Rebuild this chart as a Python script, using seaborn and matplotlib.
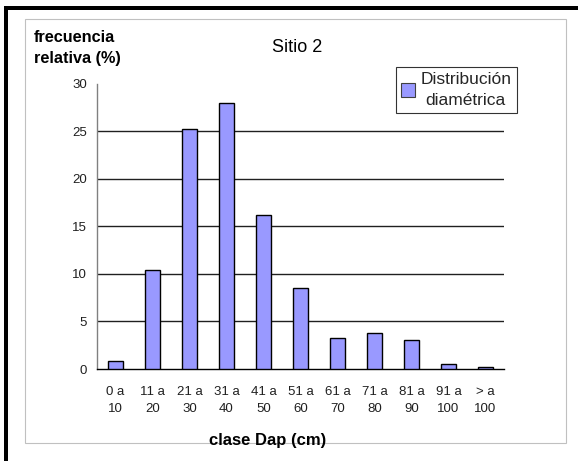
import matplotlib
matplotlib.use("Agg")
import matplotlib.pyplot as plt
import matplotlib.patheffects as pe
from matplotlib import font_manager
from matplotlib.patches import Rectangle
import numpy as np
import pandas as pd
import seaborn as sns

# Relative frequency (%) per diameter class
clases = ["0 a\n10", "11 a\n20", "21 a\n30", "31 a\n40", "41 a\n50", "51 a\n60",
          "61 a\n70", "71 a\n80", "81 a\n90", "91 a\n100", "> a\n100"]
frecuencia = [0.8, 10.4, 25.2, 28.0, 16.2, 8.5, 3.3, 3.8, 3.0, 0.5, 0.25]
y_ticks = [0, 5, 10, 15, 20, 25, 30]
serie = "Distribución\ndiamétrica"

sns.set_theme(style="white")


def pick_font(names):
    for n in names:
        try:
            font_manager.findfont(n, fallback_to_default=False)
            return n
        except Exception:
            continue
    return "DejaVu Sans"


main_font = pick_font(["Liberation Sans", "Arial", "DejaVu Sans"])
narrow_font = pick_font(["Liberation Sans Narrow", main_font])
plt.rcParams["font.family"] = [main_font, "DejaVu Sans"]

df = pd.DataFrame({"clase": clases, "frecuencia": frecuencia})

fig = plt.figure(figsize=(5.78, 4.61), dpi=100)
fig.patch.set_facecolor("white")

# outer frame: thick black edge on top and left, thin gray chart border
fig.add_artist(Rectangle((4 / 578, 0), 4 / 578, 1 - 6 / 461, transform=fig.transFigure,
                         facecolor="black", edgecolor="none"))
fig.add_artist(Rectangle((4 / 578, 1 - 10 / 461), 1, 4 / 461, transform=fig.transFigure,
                         facecolor="black", edgecolor="none"))
fig.add_artist(Rectangle((25 / 578, 1 - 443 / 461), (566 - 25) / 578, (443 - 19) / 461,
                         transform=fig.transFigure, facecolor="none",
                         edgecolor="#c0c0c0", lw=0.8))

ax = fig.add_axes([97 / 578, 1 - 369 / 461, (504 - 97) / 578, (369 - 83.8) / 461])
ax.set_facecolor("none")

sns.barplot(data=df, x="clase", y="frecuencia", color="#9999ff", width=0.38,
            edgecolor="black", linewidth=1.0, saturation=1, ax=ax, label=serie,
            zorder=3)

for p in ax.patches:
    p.set_path_effects([pe.SimplePatchShadow(offset=(1.4, -1.0), shadow_rgbFace="#808080",
                                             alpha=0.8), pe.Normal()])

ax.set_xlim(-0.5, len(clases) - 0.5)
ax.set_ylim(0, 30)
ax.set_yticks(y_ticks)
ax.set_yticklabels([str(v) for v in y_ticks], fontfamily=narrow_font, fontsize=9.5,
                   color="#202020")

for v in y_ticks[1:-1]:
    ax.axhline(v, color="#202020", lw=1.0, zorder=1)

ax.set_xticks(range(len(clases)))
ax.set_xticklabels(clases, fontfamily=narrow_font, fontsize=9.5, color="#202020",
                   linespacing=1.6)
ax.set_xticks(np.arange(-0.5, len(clases), 1.0), minor=True)
ax.tick_params(axis="x", which="major", length=0, pad=12)
ax.tick_params(axis="x", which="minor", length=4, width=1, color="black", direction="out")
ax.tick_params(axis="y", which="major", length=4, width=1, color="#808080",
               direction="out", pad=3)

for side in ("top", "right"):
    ax.spines[side].set_visible(False)
ax.spines["left"].set_color("#808080")
ax.spines["left"].set_linewidth(1.0)
ax.spines["bottom"].set_color("black")
ax.spines["bottom"].set_linewidth(1.0)

ax.set_xlabel("")
ax.set_ylabel("")

fig.text(268 / 578, 1 - 440 / 461, "clase Dap (cm)", ha="center", va="center",
         fontsize=12, fontweight="bold", color="black")
fig.text(34 / 578, 1 - 30 / 461, "frecuencia\nrelativa (%)", ha="left", va="top",
         fontsize=11.7, fontweight="bold", color="black", linespacing=1.5)
fig.text(297 / 578, 1 - 48 / 461, "Sitio 2", ha="center", va="center",
         fontsize=13, color="black")

leg = ax.legend(loc="upper left", bbox_to_anchor=(396 / 578, 1 - 67 / 461),
                bbox_transform=fig.transFigure, frameon=True, fancybox=False,
                fontsize=12.5, handlelength=0.8, handleheight=0.8, handletextpad=0.3,
                borderpad=0.3, borderaxespad=0)
leg.get_frame().set_edgecolor("black")
leg.get_frame().set_linewidth(0.8)
for t in leg.get_texts():
    t.set_multialignment("center")
    t.set_linespacing(1.45)
for h in leg.legend_handles:
    h.set_path_effects([])
    h.set_edgecolor("#404040")
    h.set_linewidth(0.8)

fig.savefig("out.png", dpi=100, facecolor="white")
